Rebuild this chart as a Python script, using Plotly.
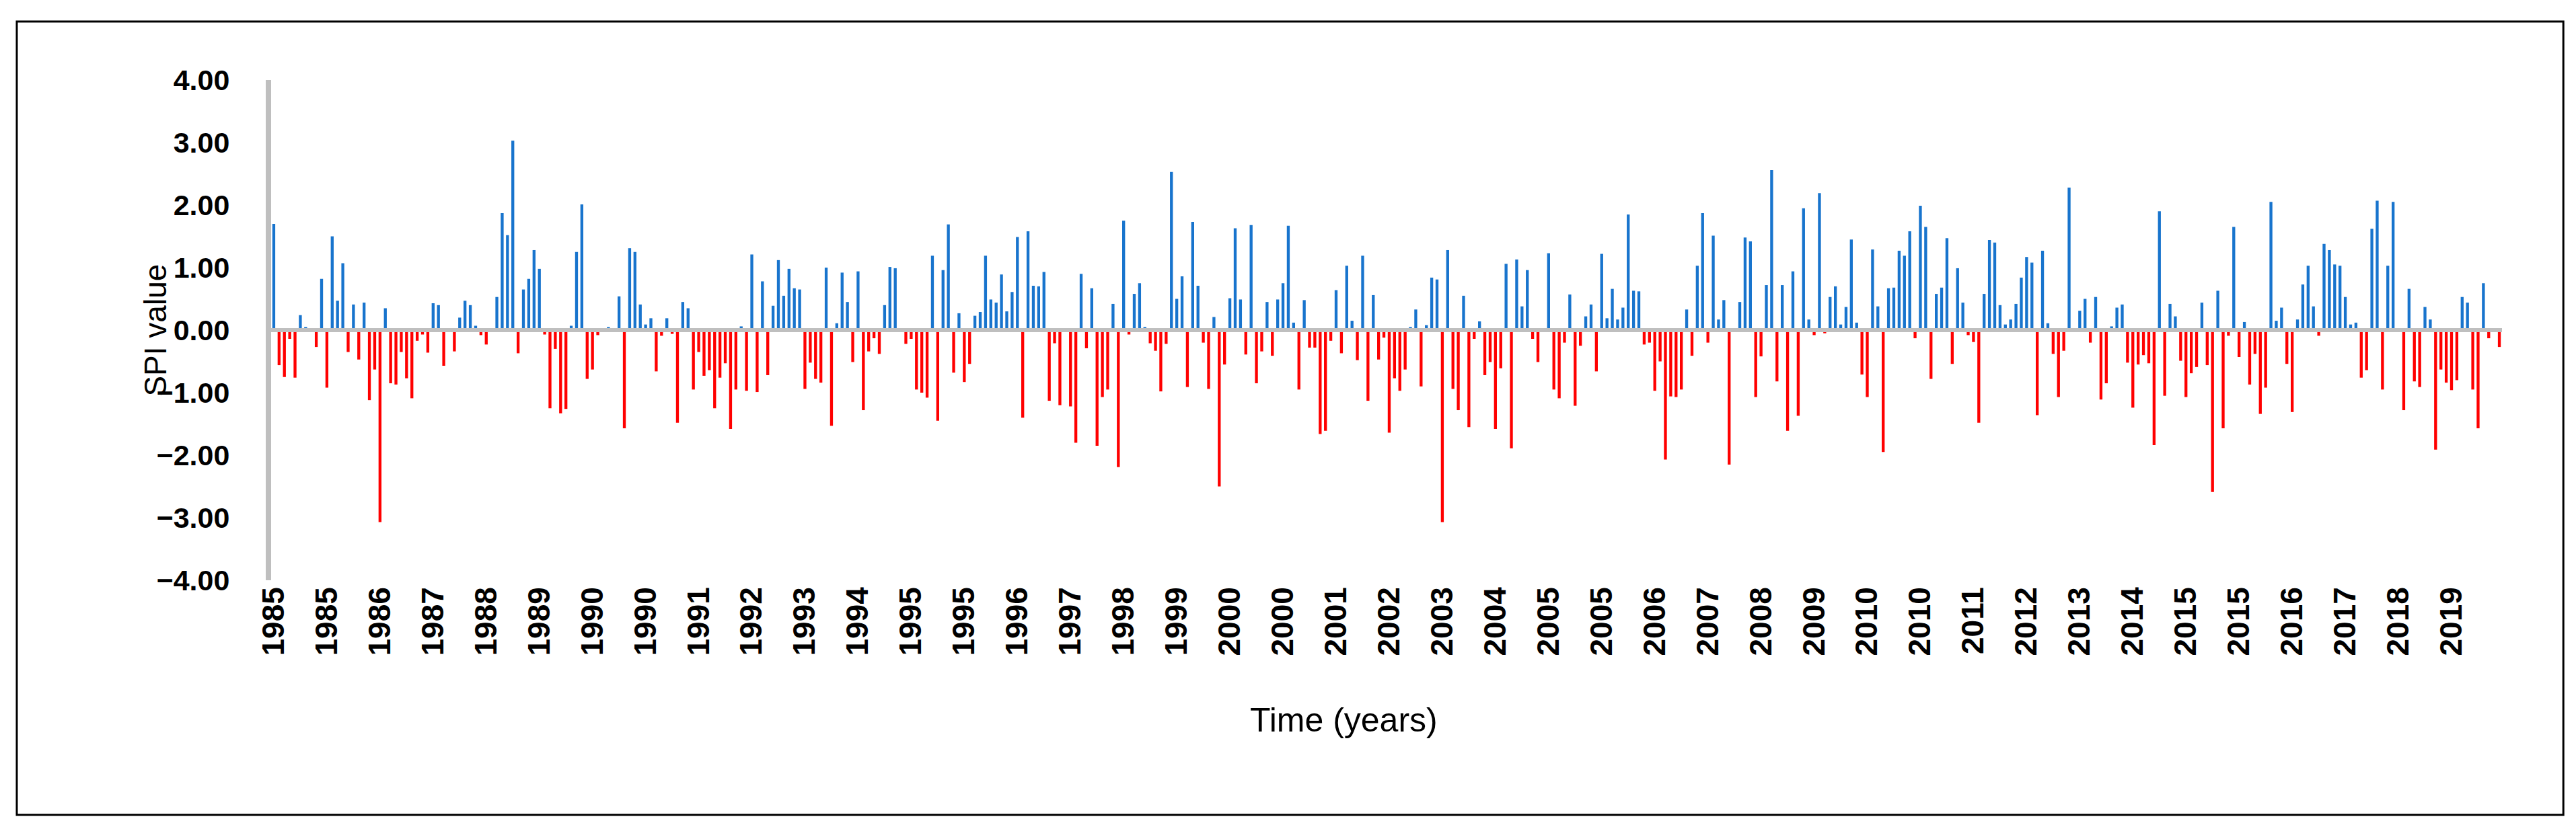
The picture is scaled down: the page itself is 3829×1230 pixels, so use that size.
import plotly.graph_objects as go

# monthly SPI values, Jan 1985 .. Dec 2019
spi_1985_1989 = [
    1.70, -0.56, -0.75, -0.14, -0.76, 0.24, 0.05, 0.01, -0.27, 0.82, -0.92, 1.50,
    0.47, 1.07, -0.35, 0.41, -0.47, 0.44, -1.12, -0.63, -3.07, 0.35, -0.85, -0.87,
    -0.35, -0.77, -1.09, -0.17, -0.07, -0.36, 0.43, 0.40, -0.57, 0.01, -0.34, 0.20,
    0.47, 0.40, 0.07, -0.08, -0.23, 0.01, 0.53, 1.87, 1.52, 3.03, -0.37, 0.65,
    0.82, 1.28, 0.98, -0.07, -1.25, -0.30, -1.33, -1.26, 0.07, 1.25, 2.01, -0.78,
]
spi_1990_1994 = [
    -0.63, -0.08, 0.01, 0.05, 0.01, 0.54, -1.57, 1.31, 1.25, 0.41, 0.09, 0.19,
    -0.66, -0.09, 0.19, -0.06, -1.48, 0.45, 0.35, -0.95, -0.35, -0.73, -0.64, -1.25,
    -0.76, -0.53, -1.58, -0.95, 0.06, -0.97, 1.21, -0.99, 0.78, -0.72, 0.39, 1.12,
    0.55, 0.98, 0.67, 0.65, -0.94, -0.52, -0.78, -0.84, 1.00, -1.53, 0.11, 0.92,
    0.45, -0.51, 0.94, -1.28, -0.34, -0.13, -0.38, 0.40, 1.01, 0.99, 0.01, -0.22,
]
spi_1995_1999 = [
    -0.14, -0.95, -1.00, -1.08, 1.19, -1.45, 0.96, 1.69, -0.68, 0.27, -0.83, -0.54,
    0.23, 0.29, 1.19, 0.49, 0.44, 0.89, 0.30, 0.61, 1.49, -1.40, 1.58, 0.71,
    0.70, 0.93, -1.13, -0.21, -1.20, 0.01, -1.22, -1.80, 0.90, -0.29, 0.67, -1.85,
    -1.07, -0.95, 0.42, -2.19, 1.75, -0.07, 0.58, 0.75, 0.05, -0.21, -0.33, -0.98,
    -0.22, 2.53, 0.50, 0.86, -0.91, 1.73, 0.71, -0.20, -0.94, 0.21, -2.50, -0.55,
]
spi_2000_2004 = [
    0.51, 1.63, 0.49, -0.39, 1.68, -0.85, -0.34, 0.45, -0.41, 0.49, 0.75, 1.67,
    0.12, -0.95, 0.48, -0.28, -0.28, -1.66, -1.61, -0.17, 0.64, -0.37, 1.03, 0.15,
    -0.48, 1.19, -1.13, 0.56, -0.47, -0.12, -1.64, -0.77, -0.97, -0.63, 0.05, 0.33,
    -0.90, 0.08, 0.84, 0.81, -3.07, 1.28, -0.94, -1.28, 0.55, -1.55, -0.14, 0.14,
    -0.72, -0.51, -1.58, -0.61, 1.06, -1.89, 1.13, 0.38, 0.96, -0.14, -0.51, 0.01,
]
spi_2005_2009 = [
    1.23, -0.95, -1.09, -0.20, 0.57, -1.21, -0.25, 0.22, 0.41, -0.66, 1.22, 0.19,
    0.66, 0.17, 0.36, 1.85, 0.63, 0.62, -0.23, -0.20, -0.97, -0.50, -2.07, -1.06,
    -1.07, -0.95, 0.33, -0.41, 1.03, 1.87, -0.20, 1.51, 0.17, 0.48, -2.15, 0.01,
    0.45, 1.48, 1.42, -1.07, -0.42, 0.72, 2.56, -0.82, 0.72, -1.61, 0.94, -1.37,
    1.95, 0.17, -0.08, 2.19, -0.05, 0.53, 0.70, 0.09, 0.37, 1.45, 0.12, -0.71,
]
spi_2010_2014 = [
    -1.07, 1.29, 0.38, -1.95, 0.67, 0.68, 1.27, 1.19, 1.58, -0.13, 1.99, 1.65,
    -0.78, 0.58, 0.68, 1.47, -0.54, 0.99, 0.44, -0.08, -0.19, -1.48, 0.58, 1.44,
    1.40, 0.40, 0.09, 0.17, 0.42, 0.84, 1.17, 1.08, -1.36, 1.27, 0.11, -0.38,
    -1.07, -0.33, 2.28, 0.01, 0.31, 0.50, -0.20, 0.53, -1.11, -0.85, 0.06, 0.36,
    0.41, -0.52, -1.24, -0.55, -0.40, -0.53, -1.84, 1.90, -1.05, 0.42, 0.22, -0.49,
]
spi_2015_2019 = [
    -1.07, -0.69, -0.59, 0.44, -0.56, -2.59, 0.63, -1.57, -0.09, 1.65, -0.43, 0.13,
    -0.87, -0.38, -1.34, -0.92, 2.05, 0.15, 0.36, -0.54, -1.31, 0.17, 0.73, 1.03,
    0.38, -0.09, 1.38, 1.28, 1.05, 1.03, 0.53, 0.09, 0.12, -0.76, -0.64, 1.62,
    2.07, -0.95, 1.03, 2.05, 0.01, -1.28, 0.66, -0.82, -0.91, 0.37, 0.17, -1.91,
    -0.63, -0.84, -0.96, -0.80, 0.53, 0.44, -0.95, -1.57, 0.75, -0.13, 0.01, -0.27,
]

# category labels shown on the x axis (one every 10 months, as in the source chart)
tick_labels = [
    "1985", "1985", "1986", "1987", "1988", "1989", "1990", "1990", "1991", "1992",
    "1993", "1994", "1995", "1995", "1996", "1997", "1998", "1999", "2000", "2000",
    "2001", "2002", "2003", "2004", "2005", "2005", "2006", "2007", "2008", "2009",
    "2010", "2010", "2011", "2012", "2013", "2014", "2015", "2015", "2016", "2017",
    "2018", "2019",
]

spi = (spi_1985_1989 + spi_1990_1994 + spi_1995_1999 + spi_2000_2004
       + spi_2005_2009 + spi_2010_2014 + spi_2015_2019)
months = list(range(len(spi)))
colors = ["#1874CD" if v >= 0 else "#FF0000" for v in spi]

fig = go.Figure(go.Bar(x=months, y=spi, marker_color=colors, marker_line_width=0))

fnt = "Liberation Sans"
fig.update_layout(
    width=3829, height=1230,
    margin=dict(l=395, r=118, t=111, b=375),
    paper_bgcolor="white", plot_bgcolor="white",
    bargap=0.45, showlegend=False,
    font=dict(family=fnt, color="black"),
)
fig.update_xaxes(
    range=[-0.5, len(spi) - 0.5],
    tickmode="array", tickvals=months[::10], ticktext=tick_labels,
    tickangle=-90, tickfont=dict(size=46, family=fnt, weight="bold"),
    showgrid=False, zeroline=False, showline=False, ticks="",
)
fig.update_yaxes(
    range=[-4, 4], dtick=1, tickformat=".2f",
    tickfont=dict(size=43, family=fnt, weight="bold"),
    showgrid=False, zeroline=False,
    showline=True, linecolor="#BFBFBF", linewidth=8,
    ticks="", ticklabelstandoff=45,
)
# x axis line at zero, drawn over the bars like the original
fig.add_shape(type="line", xref="paper", yref="y", x0=0, x1=1, y0=0, y1=0,
              line=dict(color="#BFBFBF", width=6), layer="above")
fig.add_annotation(text="SPI value", xref="paper", yref="paper", x=-0.052, y=0.5,
                   xanchor="center", yanchor="middle",
                   textangle=-90, showarrow=False, font=dict(size=46, family=fnt))
fig.add_annotation(text="Time (years)", xref="paper", yref="paper", x=0.481, y=-0.32,
                   xanchor="center", showarrow=False, font=dict(size=50, family=fnt))
# outer frame
fig.add_shape(type="rect", xref="paper", yref="paper", x0=-0.114, x1=1.0275, y0=-0.469, y1=1.117,
              line=dict(color="black", width=3))

fig.write_html("out.html")
